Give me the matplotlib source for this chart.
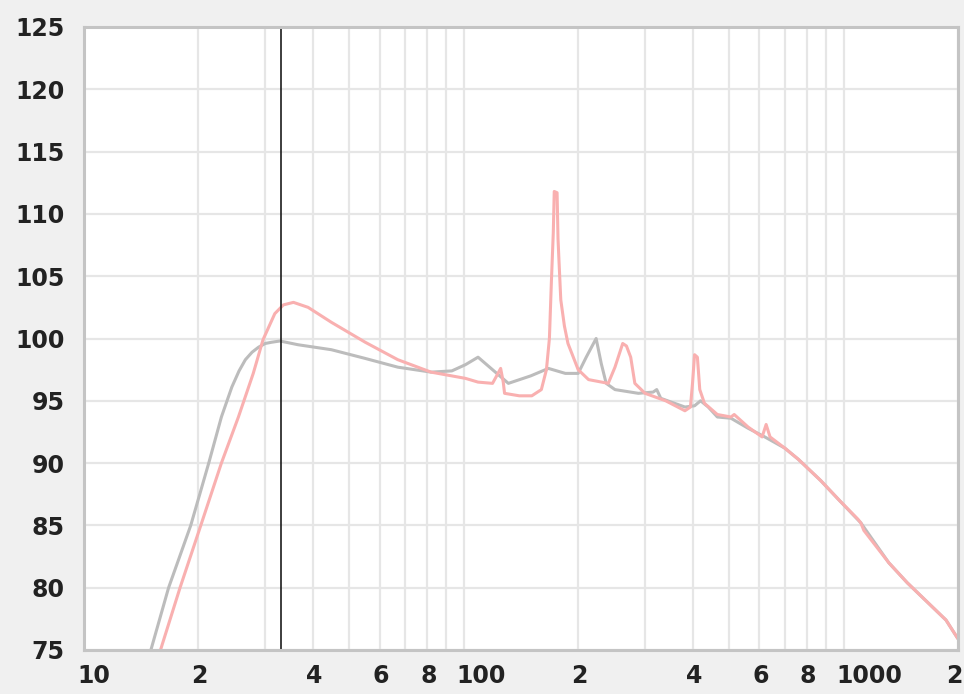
import matplotlib
matplotlib.use("Agg")
import matplotlib.pyplot as plt
import matplotlib.transforms as mtransforms
from matplotlib.ticker import FixedLocator, LogLocator, NullFormatter

# gray response (Hz, dB)
gray_f = [15, 16.7, 19.1, 21.3, 23.0, 24.5, 25.6, 26.6, 27.7, 28.8, 30.0, 31.2, 32.8, 36.6, 44.8,
          55, 67, 82, 93, 101, 109, 131, 150, 167, 185, 200, 210, 223, 230,
          237, 250, 288, 315, 322, 330, 382, 405, 420, 440, 465, 505, 560,
          620, 700, 760, 870, 975, 1110, 1315, 1470, 1860, 1990]
gray_db = [75, 80, 85, 90, 93.7, 96.1, 97.4, 98.3, 98.9, 99.3, 99.6, 99.7, 99.8, 99.5, 99.1,
           98.4, 97.7, 97.3, 97.4, 97.9, 98.5, 96.4, 97.0, 97.6, 97.2, 97.2, 98.5, 100.0, 98.0,
           96.4, 95.9, 95.6, 95.7, 95.9, 95.2, 94.5, 94.6, 95.0, 94.5, 93.7, 93.6, 92.8,
           92.1, 91.2, 90.3, 88.6, 87.0, 85.2, 82.0, 80.4, 77.4, 76.0]

# pink response (Hz, dB)
pink_f = [15.9, 17.9, 20.3, 23.0, 25.5, 27.9, 29.6, 31.8, 33.5, 35.6, 38.9, 44.8,
          55, 67, 82, 101, 109, 119, 122, 125, 127, 128, 140, 151, 160, 165,
          168, 170, 172, 173, 176, 177, 178, 180, 184, 188, 200, 213, 240, 250,
          262, 268, 275, 282, 300, 340, 382, 395, 400, 405, 412, 418, 430, 465,
          505, 515, 560, 610, 625, 640, 700, 760, 870, 975, 1090, 1110, 1130,
          1315, 1470, 1860, 1990]
pink_db = [75, 80, 85, 90, 93.7, 97.2, 99.9, 102.0, 102.7, 102.9, 102.5, 101.3,
           99.7, 98.3, 97.3, 96.8, 96.5, 96.4, 97.0, 97.6, 96.5, 95.6, 95.4, 95.4, 95.9, 97.5,
           100, 104.5, 108.5, 111.8, 111.7, 108, 106.3, 103.1, 101, 99.6, 97.5, 96.7, 96.4, 97.7,
           99.6, 99.4, 98.5, 96.4, 95.6, 95.0, 94.2, 94.5, 96.4, 98.7, 98.5, 95.9, 94.8, 93.9,
           93.7, 93.9, 92.9, 92.1, 93.1, 92.1, 91.2, 90.3, 88.6, 87.0, 85.5, 85.2, 84.6,
           82.0, 80.4, 77.4, 76.0]

marker_f = 33

xticks = [10, 20, 40, 60, 80, 100, 200, 400, 600, 800, 1000, 2000]
xlabels = ["10", "2", "4", "6", "8", "100", "2", "4", "6", "8", "1000", "2"]
yticks = list(range(75, 126, 5))

plt.rcParams['font.family'] = ['DejaVu Sans']

fig = plt.figure(figsize=(9.64, 6.94), dpi=100, facecolor='#f0f0f0')
ax = fig.add_axes([84 / 964, 1 - 650 / 694, (958 - 84) / 964, (650 - 27) / 694])
ax.set_facecolor('white')
ax.set_xscale('log')
ax.set_xlim(10, 2000)
ax.set_ylim(75, 125)

ax.xaxis.set_major_locator(FixedLocator(xticks))
ax.xaxis.set_minor_locator(LogLocator(base=10, subs=range(2, 10)))
ax.xaxis.set_minor_formatter(NullFormatter())
ax.set_xticklabels(xlabels)
ax.set_yticks(yticks)
ax.set_yticklabels([str(v) for v in yticks])

ax.grid(True, which='both', color='#e6e6e6', linewidth=1.6)
ax.set_axisbelow(True)
ax.tick_params(which='both', length=0)
ax.tick_params(axis='x', pad=10, labelsize=17, labelcolor='#222222')
ax.tick_params(axis='y', pad=14, labelsize=17, labelcolor='#222222')
for lab in ax.get_xticklabels() + ax.get_yticklabels():
    lab.set_fontweight('bold')
xlabs = ax.get_xticklabels()
for lab in xlabs[:-1]:
    lab.set_horizontalalignment('left')
    lab.set_transform(lab.get_transform() + mtransforms.ScaledTranslation(-7 / 100, 0, fig.dpi_scale_trans))
# last label sits against the right edge
xlabs[-1].set_horizontalalignment('right')
xlabs[-1].set_transform(xlabs[-1].get_transform() + mtransforms.ScaledTranslation(4 / 100, 0, fig.dpi_scale_trans))

for sp in ax.spines.values():
    sp.set_color('#c4c4c4')
    sp.set_linewidth(2.2)

ax.plot(gray_f, gray_db, color='#bcbcbc', linewidth=2.2)
ax.plot(pink_f, pink_db, color='#f9b0b0', linewidth=2.2)
ax.axvline(marker_f, color='#1c1c1c', linewidth=1.2)

fig.savefig('out.png', dpi=100, facecolor=fig.get_facecolor())
